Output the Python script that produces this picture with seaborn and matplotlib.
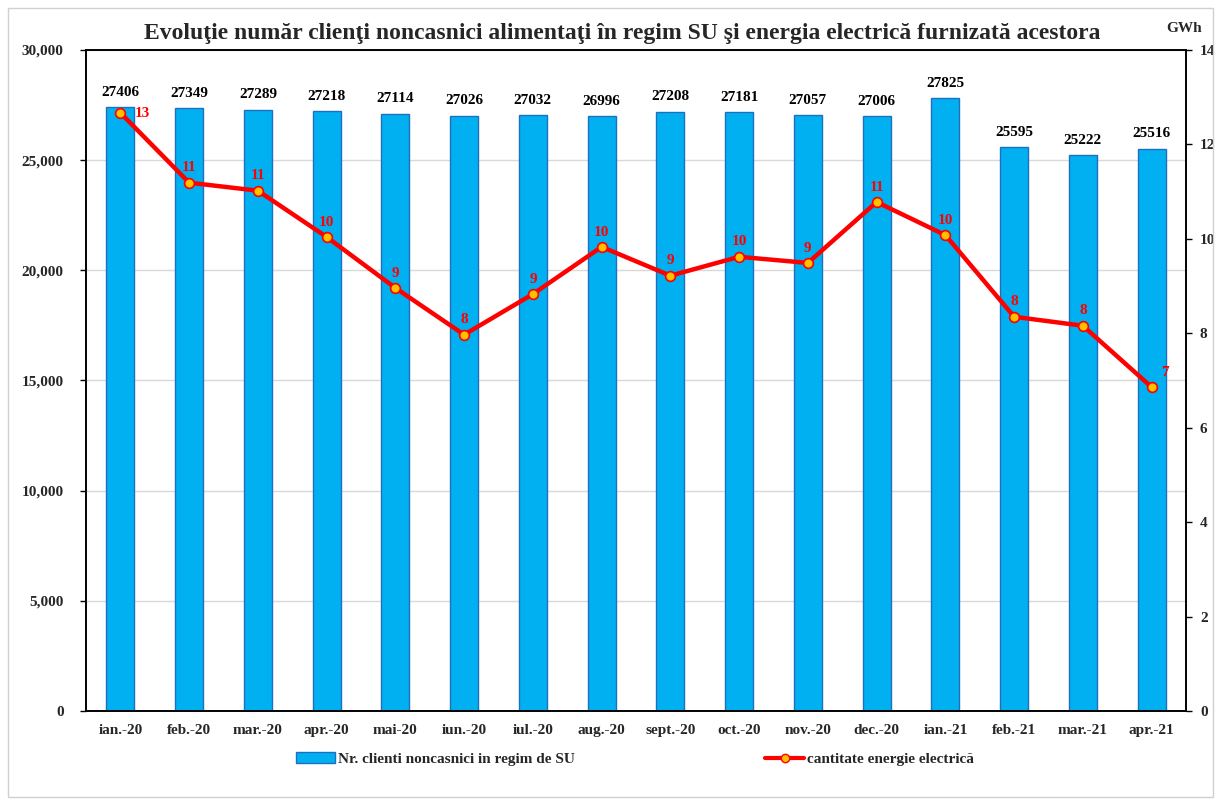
import matplotlib
matplotlib.use("Agg")
import matplotlib.pyplot as plt
import matplotlib.ticker as mticker
from matplotlib.lines import Line2D
from matplotlib.patches import Patch
import numpy as np
import pandas as pd
import seaborn as sns

luni = ['ian.-20', 'feb.-20', 'mar.-20', 'apr.-20', 'mai-20', 'iun.-20', 'iul.-20', 'aug.-20',
        'sept.-20', 'oct.-20', 'nov.-20', 'dec.-20', 'ian.-21', 'feb.-21', 'mar.-21', 'apr.-21']
clienti = [27406, 27349, 27289, 27218, 27114, 27026, 27032, 26996,
           27208, 27181, 27057, 27006, 27825, 25595, 25222, 25516]
energie = [12.67, 11.19, 11.02, 10.04, 8.96, 7.97, 8.83, 9.83,
           9.22, 9.62, 9.49, 10.78, 10.08, 8.35, 8.16, 6.86]
etichete_energie = ['13', '11', '11', '10', '9', '8', '9', '10', '9', '10', '9', '11', '10', '8', '8', '7']

titlu = 'Evoluţie număr clienţi noncasnici alimentaţi în regim SU şi energia electrică furnizată acestora'
leg_bare = 'Nr. clienti noncasnici in regim de SU'
leg_linie = 'cantitate energie electrică'

sns.set_style('white')
plt.rcParams['font.family'] = ['Liberation Serif', 'DejaVu Serif']
plt.rcParams['font.weight'] = 'bold'

albastru = '#00B0F0'
margine = '#1F6FC0'
rosu = '#FF0000'

df = pd.DataFrame({'luna': luni, 'clienti': clienti})

fig = plt.figure(figsize=(12.21, 8.05), dpi=100)
ax = fig.add_axes([86 / 1221, 1 - 711 / 805, 1100 / 1221, 661 / 805])

ax.set_axisbelow(True)
ax.yaxis.grid(True, color='#D9D9D9', linewidth=1)
sns.barplot(data=df, x='luna', y='clienti', color=albastru, width=0.41,
            edgecolor=margine, linewidth=1, saturation=1, ax=ax)

# etichete peste bare
for i, v in enumerate(clienti):
    ax.annotate(str(v), (i, v), xytext=(0, 6), textcoords='offset points',
                ha='center', va='bottom', fontsize=11, fontweight='bold', color='black')

ax.set_ylim(0, 30000)
ax.set_xlim(-0.5, len(luni) - 0.5)
ax.yaxis.set_major_locator(mticker.MultipleLocator(5000))
ax.yaxis.set_major_formatter(mticker.StrMethodFormatter('{x:,.0f}'))
ax.set_xlabel('')
ax.set_ylabel('')
ax.tick_params(axis='x', which='major', length=0, pad=9, labelsize=11)
ax.set_xticks(np.arange(len(luni) + 1) - 0.5, minor=True)
ax.tick_params(axis='x', which='minor', length=5, width=1, color='black', direction='out')
ax.tick_params(axis='y', length=4, width=1, color='black', direction='out', pad=12, labelsize=11)
for lab in ax.get_xticklabels() + ax.get_yticklabels():
    lab.set_fontweight('bold')
for s in ax.spines.values():
    s.set_color('black')
    s.set_linewidth(1.2)

ax2 = ax.twinx()
sns.lineplot(x=np.arange(len(luni)), y=energie, color=rosu, linewidth=3.2, marker='o',
             markersize=7, markerfacecolor='#FFC000', markeredgecolor=rosu,
             markeredgewidth=1.2, ax=ax2, legend=False)
for i, (v, t) in enumerate(zip(energie, etichete_energie)):
    if i == 0:
        off, ha = (10, -5), 'left'
    elif i == len(energie) - 1:
        off, ha = (7, 6), 'left'
    else:
        off, ha = (0, 6), 'center'
    ax2.annotate(t, (i, v), xytext=off, textcoords='offset points',
                 ha=ha, va='bottom', fontsize=11, fontweight='bold', color=rosu)
ax2.set_ylim(0, 14)
ax2.yaxis.set_major_locator(mticker.MultipleLocator(2))
ax2.tick_params(axis='y', length=4, width=1, color='black', direction='out', pad=6, labelsize=11)
for lab in ax2.get_yticklabels():
    lab.set_fontweight('bold')
for s in ax2.spines.values():
    s.set_color('black')
    s.set_linewidth(1.2)

fig.text(622 / 1221, 1 - 33 / 805, titlu, ha='center', va='center', fontsize=17, fontweight='bold')
fig.text(1184 / 1221, 1 - 28 / 805, 'GWh', ha='center', va='center', fontsize=11, fontweight='bold')

handles = [Patch(facecolor=albastru, edgecolor=margine, linewidth=1),
           Line2D([0], [0], color=rosu, linewidth=3, marker='o', markersize=6,
                  markerfacecolor='#FFC000', markeredgecolor=rosu)]
fig.legend(handles, [leg_bare, leg_linie], loc='center', bbox_to_anchor=(635 / 1221, 1 - 759 / 805),
           ncol=2, frameon=False, columnspacing=12.5, handlelength=2.5, handletextpad=0.2,
           prop={'weight': 'bold', 'size': 11})

fig.patches.append(plt.Rectangle((8 / 1221, 8 / 805), 1 - 16 / 1221, 1 - 16 / 805, transform=fig.transFigure,
                                 fill=False, edgecolor='#D0D0D0', linewidth=1))

fig.savefig('out.png', dpi=100)
